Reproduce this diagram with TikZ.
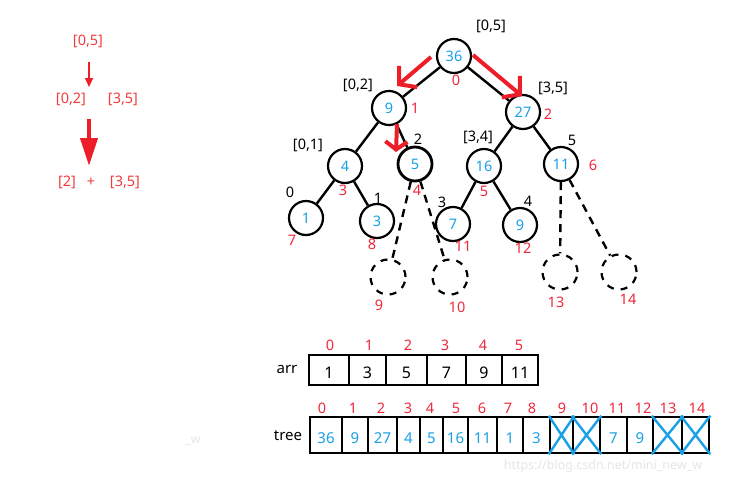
\documentclass[tikz,border=0pt]{standalone}
\usepackage{fontspec}
\setmainfont{Noto Sans}
\usetikzlibrary{arrows.meta}
\definecolor{tblue}{RGB}{25,160,230}
\definecolor{tred}{RGB}{240,40,60}
\definecolor{lred}{RGB}{240,60,60}
\definecolor{ared}{RGB}{238,30,40}
\begin{document}
\begin{tikzpicture}[x=1pt,y=-1pt,
  font=\fontsize{14.5}{16}\selectfont,
  nd/.style={circle,draw,line width=2.2pt,minimum size=34pt,inner sep=0pt,text=tblue},
  dn/.style={circle,draw,line width=2.2pt,dash pattern=on 7pt off 7pt,minimum size=35pt,inner sep=0pt},
  edge/.style={line width=2.4pt},
  dedge/.style={line width=2.4pt,dash pattern=on 8pt off 6pt},
  blk/.style={inner sep=0pt,text=black},
  rl/.style={inner sep=0pt,text=tred},
  ll/.style={inner sep=0pt,text=lred},
  redarrow/.style={draw=ared,line width=4pt,-{Straight Barb[length=12pt,width=28pt]}},
  cell/.style={draw,line width=2.6pt,inner sep=0pt,text height=17pt,text depth=0pt,font=\fontsize{16}{18}\selectfont},
  cross/.style={draw=tblue,line width=2.4pt},
  wm/.style={inner sep=0pt,text=black!10,font=\fontsize{12.5}{14}\selectfont}]
\path[use as bounding box] (0,0) rectangle (730,485);

% ---------- left part ----------
\node[ll] (L05) at (88,41) {[0,5]};
\node[ll] (L02) at (71,99) {[0,2]};
\node[ll] (L35a) at (123,99) {[3,5]};
\node[ll] (L2) at (67,182) {[2]};
\node[ll] (Lp) at (91,182) {+};
\node[ll] (L35b) at (125,182) {[3,5]};
\coordinate (s1) at (89,62);
\coordinate (e1) at (89,87);
\coordinate (s2) at (89,119);
\coordinate (e2) at (89,166);
\draw[draw=ared,line width=1.6pt,-{Triangle[length=9pt,width=8pt]},fill=ared] (s1) -- (e1);
\draw[draw=ared,line width=4pt,-{Triangle[length=28pt,width=17pt]},fill=ared] (s2) -- (e2);

% ---------- tree ----------
\node[nd] (n0) at (454,56) {36};
\node[nd] (n1) at (389,108) {9};
\node[nd] (n2) at (523,112) {27};
\node[nd] (n3) at (345,166) {4};
\node[nd,line width=2.8pt] (n4) at (415,164) {5};
\node[nd] (n5) at (484,166) {16};
\node[nd] (n6) at (561,164) {11};
\node[nd] (n7) at (306,218) {1};
\node[nd] (n8) at (377,221) {3};
\node[nd] (n11) at (453,224) {7};
\node[nd] (n12) at (520,225) {9};
\node[dn] (n9) at (388,277) {};
\node[dn] (n10) at (450,277) {};
\node[dn] (n13) at (560,272) {};
\node[dn] (n14) at (619,272) {};

\draw[edge] (n0) -- (n1);
\draw[edge] (n0) -- (n2);
\draw[edge] (n1) -- (n3);
\draw[edge] (n1) -- (n4);
\draw[edge] (n2) -- (n5);
\draw[edge] (n2) -- (n6);
\draw[edge] (n3) -- (n7);
\draw[edge] (n3) -- (n8);
\draw[edge] (n5) -- (n11);
\draw[edge] (n5) -- (n12);
\draw[dedge] (n4) -- (n9);
\draw[dedge] (n4) -- (n10);
\draw[dedge] (n6) -- (n13);
\draw[dedge] (n6) -- (n14);

% range / index labels
\node[blk] (r0) at (491,26) {[0,5]};
\node[rl] (i0) at (456,80) {0};
\node[blk] (r1) at (358,85) {[0,2]};
\node[rl] (i1) at (415,108) {1};
\node[blk] (r2) at (553,88) {[3,5]};
\node[rl] (i2) at (548,114) {2};
\node[blk] (r3) at (308,145) {[0,1]};
\node[blk] (r4) at (418,139) {2};
\node[rl] (i3) at (343,190) {3};
\node[rl] (i4) at (417,190) {4};
\node[blk] (r5) at (478,137) {[3,4]};
\node[rl] (i5) at (484,191) {5};
\node[blk] (r6) at (572,140) {5};
\node[rl] (i6) at (593,165) {6};
\node[blk] (r7) at (290,192) {0};
\node[rl] (i7) at (292,240) {7};
\node[blk] (r8) at (378,198) {1};
\node[rl] (i8) at (372,244) {8};
\node[blk] (r11) at (442,202) {3};
\node[rl] (i11) at (463,246) {11};
\node[blk] (r12) at (528,201) {4};
\node[rl] (i12) at (523,248) {12};
\node[rl] (i9) at (379,305) {9};
\node[rl] (i10) at (457,307) {10};
\node[rl] (i13) at (556,302) {13};
\node[rl] (i14) at (628,299) {14};

% red arrows
\coordinate (a1s) at (431,57);
\coordinate (a1e) at (397,86);
\coordinate (a2s) at (473,55);
\coordinate (a2e) at (522,96);
\coordinate (a3s) at (397,124);
\coordinate (a3e) at (396,152);
\draw[redarrow] (a1s) -- (a1e);
\draw[redarrow] (a2s) -- (a2e);
\draw[draw=ared,line width=4pt,-{Straight Barb[length=8pt,width=22pt]}] (a3s) -- (a3e);

% ---------- arr ----------
\node[blk,font=\fontsize{15}{17}\selectfont] (arrl) at (287,369) {arr};
\foreach \i/\l/\r/\v/\x in {0/309/349/1/330,1/349/386/3/369,2/386/427/5/408,3/427/466/7/445,4/466/502/9/483,5/502/538/11/519}{
  \node[cell,minimum width={\r-\l},minimum height=30] (a\i) at ({(\l+\r)/2},370) {\v};
  \node[rl] (ai\i) at (\x,345) {\i};
}

% ---------- tree ----------
\node[blk,font=\fontsize{15}{17}\selectfont] (treel) at (288,436) {tree};
\foreach \i/\l/\r/\v/\x in {0/310/342/36/322,1/342/368/9/353,2/368/397/27/381,3/397/420/4/408,4/420/443/5/430,5/443/468/16/456,6/468/497/11/482,7/497/523/1/508,8/523/550/3/532,9/550/573/{}/562,10/573/600/{}/590,11/600/627/7/617,12/627/653/9/643,13/653/682/{}/668,14/682/709/{}/697}{
  \node[cell,text=tblue,font=\fontsize{15}{17}\selectfont,minimum width={\r-\l},minimum height=36] (t\i) at ({(\l+\r)/2},435) {\v};
  \node[rl] (ti\i) at (\x,408) {\i};
}
\foreach \c in {9,10,13,14}{
  \draw[cross] (t\c.north west) -- (t\c.south east) (t\c.south west) -- (t\c.north east);
}

% watermark
\node[wm] (wm1) at (603,466) {https://blog.csdn.net/mini\_new\_w};
\node[wm] (wm2) at (193,441) {\_w};
\end{tikzpicture}
\end{document}
